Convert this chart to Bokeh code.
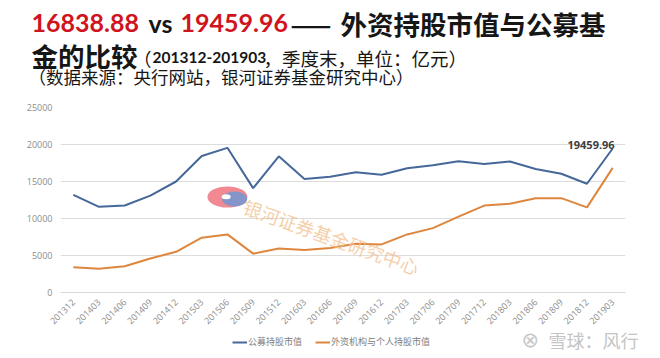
import math
from bokeh.plotting import figure
from bokeh.layouts import column
from bokeh.models import (ColumnDataSource, FactorRange, Range1d, Label, Legend,
                          LegendItem, FixedTicker)
from bokeh.core.properties import value
from bokeh.embed import file_html
from bokeh.resources import INLINE

# ---------------- data ----------------
quarters = ["201312", "201403", "201406", "201409", "201412", "201503", "201506",
            "201509", "201512", "201603", "201606", "201609", "201612", "201703",
            "201706", "201709", "201712", "201803", "201806", "201809", "201812",
            "201903"]
fund_value = [13200, 11580, 11750, 13100, 15000, 18450, 19550, 14100, 18400,
              15350, 15650, 16250, 15900, 16800, 17200, 17750, 17350, 17700,
              16700, 16050, 14700, 19459.96]
foreign_value = [3400, 3200, 3550, 4600, 5500, 7400, 7850, 5250, 5950, 5750,
                 6000, 6600, 6500, 7850, 8700, 10250, 11750, 12000, 12750,
                 12750, 11500, 16838.88]
y_ticks = [0, 5000, 10000, 15000, 20000, 25000]
series_names = ["公募持股市值", "外资机构与个人持股市值"]

BLUE = "#46679A"
ORANGE = "#DE863E"
RED = "#D0141E"
DARK = "#161616"
CJK = "Noto Sans CJK SC"

W = 660
TITLE_H = 95
MAIN_H = 235
BOTTOM_H = 36
OVERLAP = 8


def no_align(f):
    if "frame_align" in f.properties():
        f.frame_align = False


def blank_fig(h):
    f = figure(width=W, height=h, output_backend="svg", toolbar_location=None,
               x_axis_type=None, y_axis_type=None, min_border=0,
               x_range=Range1d(0, 1), y_range=Range1d(0, 1))
    f.outline_line_color = None
    f.xgrid.grid_line_color = None
    f.ygrid.grid_line_color = None
    f.background_fill_color = "white"
    f.border_fill_color = "white"
    no_align(f)
    return f


def slabel(fig, frame_left, frame_bottom, text, px, py, size, color, font,
           style="normal", align="left", baseline="middle", angle=0, alpha=1.0):
    """Label placed by page coordinates (py = vertical centre of the text)."""
    fig.add_layout(Label(x=px - frame_left, y=frame_bottom - py,
                         x_units="screen", y_units="screen",
                         text=text, text_font_size=f"{size}px", text_color=color,
                         text_font=font, text_font_style=style, text_align=align,
                         text_baseline=baseline, angle=angle, text_alpha=alpha))


# ---------------- title figure ----------------
t = blank_fig(TITLE_H)
tb = TITLE_H
slabel(t, 0, tb, "16838.88", 31, 22.5, 25, RED, "Lato", "bold")
slabel(t, 0, tb, "vs", 148, 22.5, 25, DARK, "Lato", "bold")
slabel(t, 0, tb, "19459.96", 180, 22.5, 25, RED, "Lato", "bold")
slabel(t, 0, tb, "——", 290, 23, 24, DARK, CJK, "bold")
slabel(t, 0, tb, "外资持股市值与公募基", 340, 22.5, 26.5, DARK, CJK, "bold")
slabel(t, 0, tb, "金的比较", 31, 55, 26.5, DARK, CJK, "bold")
slabel(t, 0, tb, "（", 133, 57, 18, DARK, CJK)
slabel(t, 0, tb, "201312-201903", 152, 56.5, 15.5, DARK, "Lato", "bold")
slabel(t, 0, tb, "，季度末，单位：亿元）", 263, 57, 18.5, DARK, CJK)
slabel(t, 0, tb, "（数据来源：央行网站，银河证券基金研究中心）", 28, 75.5, 17.5, DARK, CJK)

# ---------------- main chart ----------------
src = ColumnDataSource(dict(q=quarters, fund=fund_value, foreign=foreign_value))

p = figure(width=W, height=MAIN_H, x_range=FactorRange(*quarters),
           y_range=Range1d(0, 25000), output_backend="svg", toolbar_location=None,
           min_border_left=60, min_border_right=35, min_border_top=12,
           min_border_bottom=33)
p.outline_line_color = None
p.background_fill_color = "white"
p.border_fill_color = "white"
no_align(p)

# faint logo of the watermark (decoration, behind the data lines)
logo_x = [quarters[6]]
logo_y = [12900]
p.ellipse(x=logo_x, y=logo_y, width=40, height=21, width_units="screen",
          height_units="screen", fill_color="#EE7C86", line_color=None,
          fill_alpha=0.9)
p.ellipse(x=[(quarters[6], 0.28)], y=[12650], width=25, height=15,
          width_units="screen", height_units="screen", fill_color="#7E96CC",
          line_color=None, fill_alpha=0.95)
p.ellipse(x=[(quarters[6], -0.05)], y=[12950], width=9, height=5,
          width_units="screen", height_units="screen", fill_color="white",
          line_color=None)

r_fund = p.line("q", "fund", source=src, line_color=BLUE, line_width=2)
r_foreign = p.line("q", "foreign", source=src, line_color=ORANGE, line_width=2)

p.yaxis.ticker = FixedTicker(ticks=y_ticks)
p.yaxis.axis_line_color = None
p.yaxis.major_tick_line_color = None
p.yaxis.minor_tick_line_color = None
p.yaxis.major_tick_out = 0
p.yaxis.minor_tick_out = 0
p.yaxis.major_label_text_color = "#8c8c8c"
p.yaxis.major_label_text_font = "Open Sans"
p.yaxis.major_label_text_font_size = "9px"
p.yaxis.major_label_standoff = 8

p.xaxis.axis_line_color = "#d9d9d9"
p.xaxis.major_tick_line_color = None
p.xaxis.minor_tick_line_color = None
p.xaxis.major_label_orientation = math.pi / 4
p.xaxis.major_label_text_color = "#8c8c8c"
p.xaxis.major_label_text_font = "Open Sans"
p.xaxis.major_label_text_font_size = "9px"
p.xaxis.major_label_standoff = 2

p.xgrid.grid_line_color = None
p.ygrid.grid_line_color = "#dcdcdc"
p.ygrid.grid_line_width = 1

last_src = ColumnDataSource(dict(q=[quarters[-1]], v=[fund_value[-1]],
                                 t=[f"{fund_value[-1]:.2f}"]))
p.text(x="q", y="v", text="t", source=last_src, text_align="right",
       text_baseline="middle", x_offset=2, y_offset=-3,
       text_font=value("Open Sans"), text_font_style="bold",
       text_font_size="11px", text_color="#404040")

# watermark text inside the plot area (frame left page 60, frame bottom page 297)
slabel(p, 60, 297 - TITLE_H, "银河证券基金研究中心", 244, 210 - TITLE_H, 18.5,
       "#F2C08E", CJK, angle=-0.345, alpha=0.75)

# ---------------- bottom strip: legend + watermark ----------------
b = blank_fig(BOTTOM_H)
b.background_fill_alpha = 0
b.border_fill_alpha = 0
b.margin = (-OVERLAP, 0, 0, 0)
top_b = TITLE_H + MAIN_H - OVERLAP
nan = float("nan")
proxy_fund = b.line(x=[0.5], y=[nan], line_color=BLUE, line_width=2)
proxy_foreign = b.line(x=[0.5], y=[nan], line_color=ORANGE, line_width=2)
legend = Legend(items=[LegendItem(label=series_names[0], renderers=[proxy_fund]),
                       LegendItem(label=series_names[1], renderers=[proxy_foreign])],
                orientation="horizontal", location=(232, 358 - 342 - 6),
                label_text_font=CJK, label_text_font_size="9px",
                label_text_color="#808080", glyph_width=15, glyph_height=10,
                label_height=10, label_standoff=1, spacing=13, padding=0,
                margin=0, border_line_color=None, background_fill_alpha=0)
b.add_layout(legend)
slabel(b, 0, BOTTOM_H, "⊗", 521, 339.5 - top_b, 21, "#C8C8C8", "DejaVu Sans")
slabel(b, 0, BOTTOM_H, "雪球：风行", 548, 339.5 - top_b, 18, "#C4C4C4", CJK)

layout = column(t, p, b, spacing=0)
open("out.html", "w").write(file_html(layout, INLINE))
